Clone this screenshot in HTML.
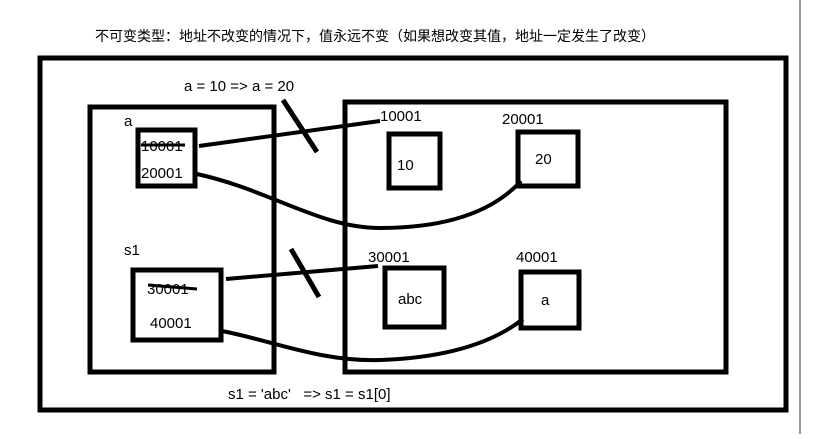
<!DOCTYPE html>
<html><head><style>
body{margin:0;background:#fff;width:813px;height:434px;overflow:hidden}
svg text{font-family:"Liberation Sans","Noto Sans CJK SC",sans-serif;font-size:15px;fill:#000}
</style></head><body>
<svg width="813" height="434" viewBox="0 0 813 434">
<line x1="800" y1="0" x2="800" y2="434" stroke="#999" stroke-width="2"/>
<text x="95" y="41" style="font-size:14px">不可变类型：地址不改变的情况下，值永远不变（如果想改变其值，地址一定发生了改变）</text>
<g fill="none" stroke="#000" stroke-width="5">
<rect x="40" y="58" width="746" height="352"/>
<rect x="90" y="107" width="184" height="265"/>
<rect x="345" y="102" width="381" height="270"/>
<rect x="138" y="130" width="57" height="56"/>
<rect x="133" y="270" width="88" height="70"/>
<rect x="389" y="134" width="51" height="54"/>
<rect x="518" y="132" width="60" height="54"/>
<rect x="385" y="268" width="59" height="59"/>
<rect x="521" y="272" width="58" height="56"/>
<line x1="199" y1="146" x2="380" y2="121" stroke-width="4"/>
<line x1="283" y1="100" x2="317" y2="152"/>
<path d="M197 174 C 270 190, 320 228, 380 228 S 490 215, 521 181" stroke-width="4"/>
<line x1="226" y1="279" x2="378" y2="266" stroke-width="4"/>
<line x1="291" y1="249" x2="319" y2="297"/>
<path d="M222 331 C 270 340, 320 362, 380 360 S 490 345, 523 319" stroke-width="4"/>
<line x1="141" y1="145" x2="185" y2="145" stroke-width="3"/>
<line x1="148" y1="285" x2="197" y2="289" stroke-width="3"/>
</g>
<text x="184" y="91">a = 10 =&gt; a = 20</text>
<text x="124" y="126">a</text>
<text x="141" y="151">10001</text>
<text x="141" y="178">20001</text>
<text x="124" y="255">s1</text>
<text x="147" y="294">30001</text>
<text x="150" y="328">40001</text>
<text x="380" y="121">10001</text>
<text x="502" y="124">20001</text>
<text x="368" y="262">30001</text>
<text x="516" y="262">40001</text>
<text x="397" y="170">10</text>
<text x="535" y="164">20</text>
<text x="398" y="304">abc</text>
<text x="541" y="305">a</text>
<text x="228" y="399" xml:space="preserve" style="white-space:pre">s1 = 'abc'   =&gt; s1 = s1[0]</text>
</svg>
</body></html>
